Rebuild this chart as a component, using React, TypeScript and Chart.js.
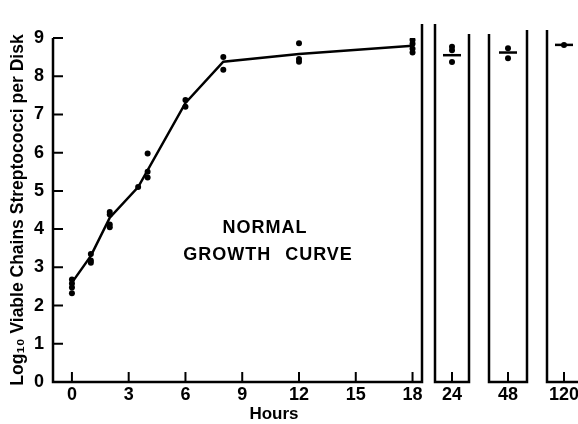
import React, { useEffect, useRef } from "react";
import { Chart, registerables } from "chart.js";

Chart.register(...registerables);

// ---------- data ----------
const yTickValues = [0, 1, 2, 3, 4, 5, 6, 7, 8, 9];
const mainXTicks = [0, 3, 6, 9, 12, 15, 18];

// individual observations, 0-18 h
const obsHours = [0, 0, 0, 0, 1, 1, 1, 2, 2, 2, 2, 3.5, 4, 4, 4, 6, 6, 8, 8, 12, 12, 12, 18, 18, 18, 18, 18];
const obsLog = [2.68, 2.58, 2.47, 2.32, 3.35, 3.18, 3.12, 4.45, 4.38, 4.12, 4.05, 5.1, 5.98, 5.5, 5.35, 7.38, 7.2, 8.5, 8.17, 8.86, 8.45, 8.38, 9.05, 8.95, 8.85, 8.72, 8.62];

// growth curve through the means
const curveHours = [0, 1, 2, 3.5, 6, 8, 12, 18];
const curveLog = [2.6, 3.3, 4.3, 5.1, 7.3, 8.38, 8.58, 8.8];

// late time panels
const panelHours = [24, 48, 120];
const panel24Obs = [8.77, 8.68, 8.37];
const panel48Obs = [8.73, 8.47];
const panel120Obs = [8.82];
const panelMeans = [8.55, 8.62, 8.82];
const panelObs = [panel24Obs, panel48Obs, panel120Obs];

const yTitle = "Log\u2081\u2080 Viable Chains Streptococci per Disk";
const xTitle = "Hours";
const noteLine1 = "NORMAL";
const noteLine2 = "GROWTH CURVE";

// ---------- styling ----------
const FONT = "'Liberation Sans', Arial, sans-serif";
const PLOT_TOP = 38;
const XAXIS_H = 42;

function framePlugin(opts: { leftExt: number; rightExt: number; yTicks: boolean }) {
  return {
    id: "frame",
    afterDraw(chart: any) {
      const { ctx, chartArea, scales } = chart;
      const { left, right, top, bottom } = chartArea;
      ctx.save();
      ctx.strokeStyle = "#000";
      ctx.lineWidth = 2.5;
      ctx.lineJoin = "miter";
      ctx.beginPath();
      ctx.moveTo(left, top - opts.leftExt);
      ctx.lineTo(left, bottom);
      ctx.lineTo(right, bottom);
      ctx.lineTo(right, top - opts.rightExt);
      ctx.stroke();
      ctx.lineWidth = 2;
      ctx.beginPath();
      for (const t of scales.x.ticks) {
        const px = scales.x.getPixelForValue(t.value);
        ctx.moveTo(px, bottom);
        ctx.lineTo(px, bottom - 10);
      }
      if (opts.yTicks) {
        for (const t of scales.y.ticks) {
          const py = scales.y.getPixelForValue(t.value);
          ctx.moveTo(left, py);
          ctx.lineTo(left + 10, py);
        }
      }
      ctx.stroke();
      ctx.restore();
    },
  };
}

const tickFont = { family: FONT, size: 18, weight: "bold" as const };

function xScale(min: number, max: number, ticks: number[]) {
  return {
    type: "linear" as const,
    min,
    max,
    afterBuildTicks: (s: any) => {
      s.ticks = ticks.map((v) => ({ value: v }));
    },
    afterFit: (s: any) => {
      s.height = XAXIS_H;
    },
    grid: { display: false, drawTicks: false },
    border: { display: false },
    ticks: { color: "#000", font: tickFont, padding: 2, autoSkip: false, maxRotation: 0 },
  };
}

function mainConfig(): any {
  const pts = obsHours.map((h, i) => ({ x: h, y: obsLog[i] }));
  const curve = curveHours.map((h, i) => ({ x: h, y: curveLog[i] }));
  return {
    type: "scatter",
    data: {
      datasets: [
        {
          data: curve,
          showLine: true,
          borderColor: "#000",
          borderWidth: 2.5,
          pointRadius: 0,
          tension: 0,
        },
        {
          data: pts,
          backgroundColor: "#000",
          borderWidth: 0,
          pointRadius: 3,
        },
      ],
    },
    options: {
      animation: false,
      responsive: false,
      layout: { padding: { top: PLOT_TOP, right: 10, left: 0, bottom: 0 } },
      plugins: { legend: { display: false }, tooltip: { enabled: false } },
      scales: {
        x: xScale(-1, 18.5, mainXTicks),
        y: {
          type: "linear",
          min: 0,
          max: 9,
          afterBuildTicks: (s: any) => {
            s.ticks = yTickValues.map((v) => ({ value: v }));
          },
          afterFit: (s: any) => {
            s.width = 53;
          },
          grid: { display: false, drawTicks: false },
          border: { display: false },
          ticks: { color: "#000", font: tickFont, padding: 9 },
          title: {
            display: true,
            text: yTitle,
            color: "#000",
            font: { family: FONT, size: 17.5, weight: "bold" },
            padding: { top: 8, bottom: 0 },
          },
        },
      },
    },
    plugins: [framePlugin({ leftExt: 0, rightExt: 14, yTicks: true })],
  };
}

function panelConfig(idx: number, leftExt: number, rightExt: number): any {
  const h = panelHours[idx];
  const pts = panelObs[idx].map((v) => ({ x: h, y: v }));
  return {
    type: "scatter",
    data: {
      datasets: [
        {
          data: [{ x: h, y: panelMeans[idx] }],
          pointStyle: "line",
          pointRadius: 9,
          borderColor: "#000",
          borderWidth: 2.5,
        },
        {
          data: pts,
          backgroundColor: "#000",
          borderWidth: 0,
          pointRadius: 3,
        },
      ],
    },
    options: {
      animation: false,
      responsive: false,
      layout: { padding: { top: PLOT_TOP, right: 20, left: 20, bottom: 0 } },
      plugins: { legend: { display: false }, tooltip: { enabled: false } },
      scales: {
        x: xScale(h - 1, h + 1, [h]),
        y: { type: "linear", min: 0, max: 9, display: false },
      },
    },
    plugins: [framePlugin({ leftExt, rightExt, yTicks: false })],
  };
}

function ChartCanvas(props: { left: number; width: number; make: () => any }) {
  const ref = useRef<HTMLCanvasElement | null>(null);
  useEffect(() => {
    if (!ref.current) return;
    const chart = new Chart(ref.current, props.make());
    return () => chart.destroy();
  }, []);
  return (
    <canvas
      ref={ref}
      width={props.width}
      height={424}
      style={{ position: "absolute", left: props.left, top: 0, width: props.width, height: 424 }}
    />
  );
}

export default function App() {
  const textStyle: React.CSSProperties = {
    position: "absolute",
    fontFamily: FONT,
    fontWeight: "bold",
    color: "#000",
    whiteSpace: "nowrap",
    transform: "translateX(-50%)",
  };
  return (
    <div
      style={{
        position: "fixed",
        left: 0,
        top: 0,
        width: 578,
        height: 424,
        overflow: "hidden",
        background: "#fff",
      }}
    >
      <ChartCanvas left={0} width={432} make={mainConfig} />
      <ChartCanvas left={415} width={74} make={() => panelConfig(0, 14, 4)} />
      <ChartCanvas left={469} width={78} make={() => panelConfig(1, 4, 8)} />
      <ChartCanvas left={527} width={74} make={() => panelConfig(2, 8, 8)} />
      <div style={{ ...textStyle, left: 265, top: 216, fontSize: 18, lineHeight: "22px", letterSpacing: 1 }}>
        {noteLine1}
      </div>
      <div
        style={{ ...textStyle, left: 268, top: 243, fontSize: 18, lineHeight: "22px", letterSpacing: 1, wordSpacing: 8 }}
      >
        {noteLine2}
      </div>
      <div style={{ ...textStyle, left: 274, top: 404, fontSize: 17, lineHeight: "20px" }}>{xTitle}</div>
    </div>
  );
}
